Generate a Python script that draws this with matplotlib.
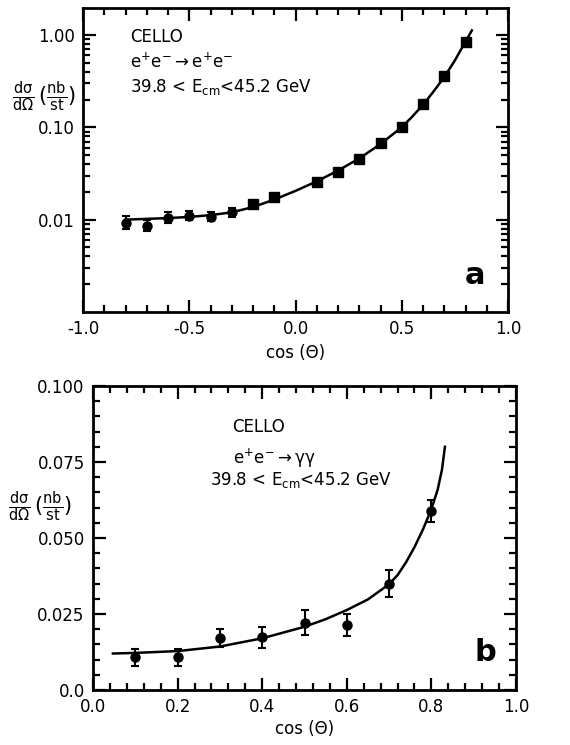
import matplotlib
matplotlib.use("Agg")
import matplotlib.pyplot as plt
from matplotlib.ticker import MultipleLocator, FixedLocator, LogLocator, NullFormatter

plt.rcParams['font.family'] = ['DejaVu Sans']
plt.rcParams['mathtext.fontset'] = 'dejavusans'
plt.rcParams['mathtext.default'] = 'regular'

# ---- Panel a: e+e- -> e+e- ----
a_x = [-0.8, -0.7, -0.6, -0.5, -0.4, -0.3, -0.2, -0.1, 0.1, 0.2, 0.3, 0.4, 0.5, 0.6, 0.7, 0.8]
a_y = [0.0093, 0.0086, 0.0105, 0.0110, 0.0108, 0.0120, 0.0149, 0.0177,
       0.0257, 0.0330, 0.0455, 0.0680, 0.102, 0.180, 0.360, 0.840]
a_rel_err = [0.17, 0.15, 0.14, 0.12, 0.12, 0.11, 0.07, 0.07,
             0.06, 0.06, 0.06, 0.06, 0.06, 0.06, 0.06, 0.06]
a_curve_x = [-0.8, -0.7, -0.6, -0.5, -0.4, -0.3, -0.2, -0.1, 0.0, 0.1, 0.2, 0.3,
             0.4, 0.5, 0.55, 0.6, 0.65, 0.7, 0.75, 0.8, 0.83]
a_curve_y = [0.0100, 0.0102, 0.0104, 0.0107, 0.0112, 0.0120, 0.0137, 0.0165, 0.0205,
             0.0260, 0.0340, 0.0460, 0.0660, 0.100, 0.131, 0.175, 0.245, 0.350, 0.53,
             0.85, 1.12]
a_yticks = [0.01, 0.1, 1.0]
a_yticklabels = ["0.01", "0.10", "1.00"]
a_xticks = [-1.0, -0.5, 0.0, 0.5, 1.0]
a_xticklabels = ["-1.0", "-0.5", "0.0", "0.5", "1.0"]

# ---- Panel b: e+e- -> gamma gamma ----
b_x = [0.1, 0.2, 0.3, 0.4, 0.5, 0.6, 0.7, 0.8]
b_y = [0.0107, 0.0107, 0.0170, 0.0173, 0.0222, 0.0213, 0.0350, 0.0590]
b_err = [0.0027, 0.0027, 0.0030, 0.0035, 0.0040, 0.0037, 0.0045, 0.0036]
b_curve_x = [0.047, 0.1, 0.2, 0.3, 0.4, 0.5, 0.55, 0.6, 0.65, 0.7, 0.72, 0.74, 0.76,
             0.78, 0.80, 0.815, 0.825, 0.832]
b_curve_y = [0.0120, 0.0122, 0.0128, 0.0143, 0.0170, 0.0208, 0.0233, 0.0263, 0.0298,
             0.0348, 0.0378, 0.0420, 0.0470, 0.0528, 0.0595, 0.0660, 0.0725, 0.0800]
b_yticks = [0.0, 0.025, 0.05, 0.075, 0.1]
b_yticklabels = ["0.0", "0.025", "0.050", "0.075", "0.100"]
b_xticks = [0.0, 0.2, 0.4, 0.6, 0.8, 1.0]
b_xticklabels = ["0.0", "0.2", "0.4", "0.6", "0.8", "1.0"]

fig = plt.figure(figsize=(5.7, 7.45), dpi=100)

ylabel = r'$\frac{d\sigma}{d\Omega}\,(\frac{nb}{st})$'

def style_axes(ax):
    for s in ax.spines.values():
        s.set_linewidth(2.0)
    ax.tick_params(which='both', direction='in', top=True, right=True, width=1.6,
                   labelsize=12, pad=6)
    ax.tick_params(which='major', length=9)
    ax.tick_params(which='minor', length=5)

# Panel a
ax1 = fig.add_axes([83/570, 1-312/745, 425/570, 304/745])
ax1.set_yscale('log')
ax1.set_xlim(-1.0, 1.0)
ax1.set_ylim(0.001, 1.96)
ax1.plot(a_curve_x, a_curve_y, color='black', lw=1.8, zorder=2)
for xi, yi, ri in zip(a_x, a_y, a_rel_err):
    mk = 'o' if xi < -0.25 else 's'
    ax1.errorbar([xi], [yi], yerr=[[yi*ri/(1+ri)], [yi*ri]], fmt=mk, color='black',
                 ms=6.5, capsize=3, elinewidth=1.5, capthick=1.5, zorder=3)
style_axes(ax1)
ax1.xaxis.set_major_locator(FixedLocator(a_xticks))
ax1.set_xticklabels(a_xticklabels)
ax1.xaxis.set_minor_locator(MultipleLocator(0.1))
ax1.yaxis.set_major_locator(FixedLocator(a_yticks))
ax1.set_yticklabels(a_yticklabels)
ax1.yaxis.set_minor_locator(LogLocator(base=10, subs=range(2, 10), numticks=20))
ax1.yaxis.set_minor_formatter(NullFormatter())
ax1.set_xlabel('cos (Θ)', fontsize=12, labelpad=4)
fig.text(12/570, 1-97/745, ylabel, fontsize=15, va='center', ha='left')
ax1.text(0.11, 0.905, 'CELLO', transform=ax1.transAxes, fontsize=12, va='center')
ax1.text(0.11, 0.822, r'e$^{+}$e$^{-}$$\rightarrow$e$^{+}$e$^{-}$', transform=ax1.transAxes,
         fontsize=12, va='center')
ax1.text(0.11, 0.74, r'39.8 < E$_{cm}$<45.2 GeV', transform=ax1.transAxes,
         fontsize=12, va='center')
ax1.text(0.922, 0.12, 'a', transform=ax1.transAxes, fontsize=22, fontweight='bold',
         ha='center', va='center')

# Panel b
ax2 = fig.add_axes([93/570, 1-690/745, 423/570, 304/745])
ax2.set_xlim(0.0, 1.0)
ax2.set_ylim(0.0, 0.1)
ax2.plot(b_curve_x, b_curve_y, color='black', lw=1.8, zorder=2)
ax2.errorbar(b_x, b_y, yerr=b_err, fmt='o', color='black', ms=6.5, capsize=3,
             elinewidth=1.5, capthick=1.5, zorder=3)
style_axes(ax2)
ax2.xaxis.set_major_locator(FixedLocator(b_xticks))
ax2.set_xticklabels(b_xticklabels)
ax2.xaxis.set_minor_locator(MultipleLocator(0.04))
ax2.yaxis.set_major_locator(FixedLocator(b_yticks))
ax2.set_yticklabels(b_yticklabels)
ax2.yaxis.set_minor_locator(MultipleLocator(0.005))
ax2.set_xlabel('cos (Θ)', fontsize=12, labelpad=3)
fig.text(8/570, 1-507/745, ylabel, fontsize=15, va='center', ha='left')
ax2.text(0.33, 0.865, 'CELLO', transform=ax2.transAxes, fontsize=12, va='center')
ax2.text(0.33, 0.763, r'e$^{+}$e$^{-}$$\rightarrow$γγ', transform=ax2.transAxes,
         fontsize=12, va='center')
ax2.text(0.277, 0.69, r'39.8 < E$_{cm}$<45.2 GeV', transform=ax2.transAxes,
         fontsize=12, va='center')
ax2.text(0.927, 0.122, 'b', transform=ax2.transAxes, fontsize=22, fontweight='bold',
         ha='center', va='center')

fig.savefig('out.png', dpi=100)
